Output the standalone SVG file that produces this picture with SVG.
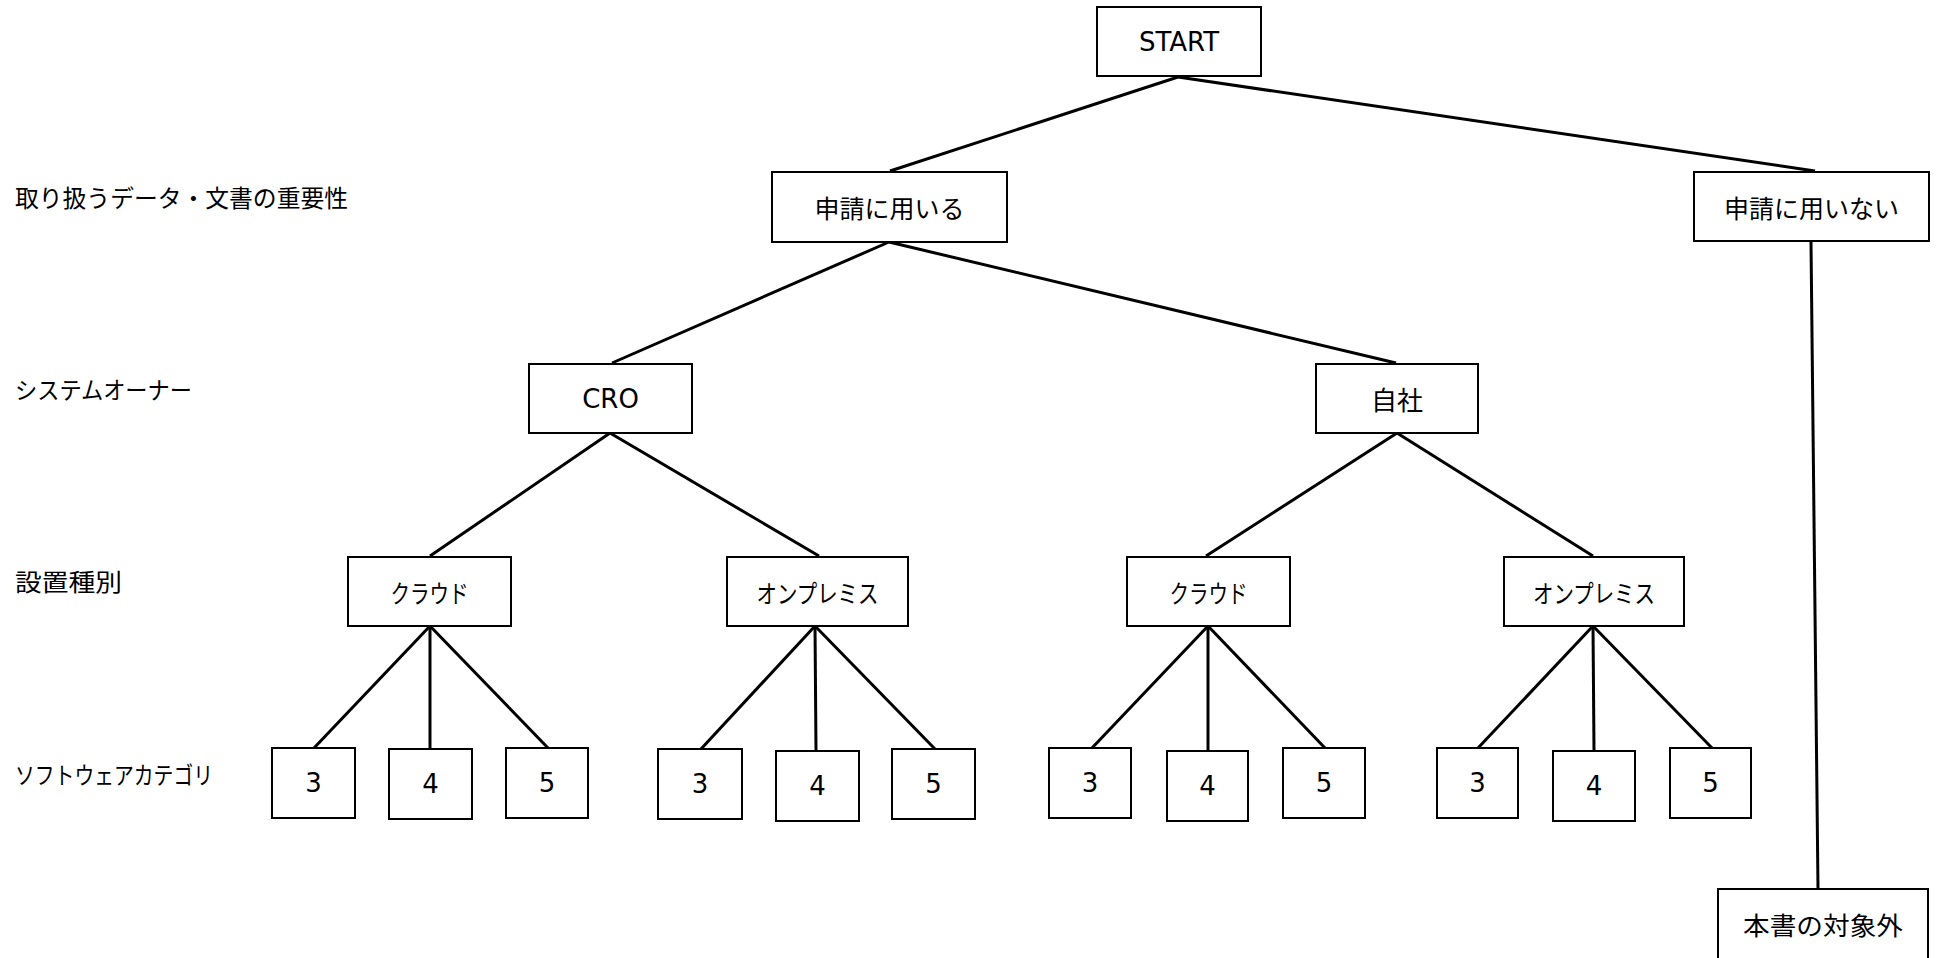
<svg xmlns="http://www.w3.org/2000/svg" width="1942" height="958" viewBox="0 0 1942 958">
<style>
.box{fill:#fff;stroke:#000;stroke-width:2}
.jp{font-family:"Noto Sans CJK JP",sans-serif;font-size:25px;fill:#000}
.lat{font-family:"DejaVu Sans",sans-serif;font-size:26px;fill:#000}
.c{text-anchor:middle;dominant-baseline:central}
.lbl{font-family:"Noto Sans CJK JP",sans-serif;font-size:24px;fill:#000;dominant-baseline:central}
#connectors line{stroke:#000;stroke-width:3;fill:none}
</style>
<rect width="1942" height="958" fill="#fff"/>
<g id="labels">
<text class="lbl" x="15" y="196" textLength="333" lengthAdjust="spacingAndGlyphs">取り扱うデータ・文書の重要性</text>
<text class="lbl" x="15" y="388" textLength="177" lengthAdjust="spacingAndGlyphs">システムオーナー</text>
<text class="lbl" x="15" y="580" textLength="107" lengthAdjust="spacingAndGlyphs">設置種別</text>
<text class="lbl" x="15" y="773" textLength="198" lengthAdjust="spacingAndGlyphs">ソフトウェアカテゴリ</text>
</g>
<g id="connectors">
<line x1="1178" y1="77" x2="890" y2="171"/>
<line x1="1178" y1="77" x2="1815" y2="171"/>
<line x1="889" y1="242" x2="612" y2="363"/>
<line x1="889" y1="242" x2="1396" y2="363"/>
<line x1="1811" y1="242" x2="1818" y2="889"/>
<line x1="610" y1="433" x2="430" y2="556"/>
<line x1="610" y1="433" x2="819" y2="556"/>
<line x1="1397" y1="433" x2="1206" y2="556"/>
<line x1="1397" y1="433" x2="1593" y2="556"/>
<line x1="430" y1="626" x2="314" y2="748"/>
<line x1="430" y1="626" x2="430" y2="749"/>
<line x1="430" y1="626" x2="548" y2="748"/>
<line x1="815" y1="626" x2="701" y2="749"/>
<line x1="815" y1="626" x2="816" y2="751"/>
<line x1="815" y1="626" x2="935" y2="749"/>
<line x1="1208" y1="626" x2="1092" y2="748"/>
<line x1="1208" y1="626" x2="1208" y2="751"/>
<line x1="1208" y1="626" x2="1325" y2="748"/>
<line x1="1593" y1="626" x2="1478" y2="748"/>
<line x1="1593" y1="626" x2="1594" y2="751"/>
<line x1="1593" y1="626" x2="1712" y2="748"/>
</g>
<g id="start"><rect class="box" x="1097" y="7" width="164" height="69"/><text class="lat c" x="1179" y="42">START</text></g>
<g id="use"><rect class="box" x="772" y="172" width="235" height="70"/><text class="jp c" x="889.5" y="207">申請に用いる</text></g>
<g id="notuse"><rect class="box" x="1694" y="172" width="235" height="69"/><text class="jp c" x="1811.5" y="206.5">申請に用いない</text></g>
<g id="cro"><rect class="box" x="529" y="364" width="163" height="69"/><text class="lat c" x="610.5" y="398.5">CRO</text></g>
<g id="own"><rect class="box" x="1316" y="364" width="162" height="69"/><text class="jp c" x="1397" y="398.5" style="font-size:26px">自社</text></g>
<g id="cloud1"><rect class="box" x="348" y="557" width="163" height="69"/><text class="jp c" x="429.5" y="591.5" textLength="78" lengthAdjust="spacingAndGlyphs">クラウド</text></g>
<g id="onprem1"><rect class="box" x="727" y="557" width="181" height="69"/><text class="jp c" x="817.5" y="591.5" textLength="122" lengthAdjust="spacingAndGlyphs">オンプレミス</text></g>
<g id="cloud2"><rect class="box" x="1127" y="557" width="163" height="69"/><text class="jp c" x="1208.5" y="591.5" textLength="78" lengthAdjust="spacingAndGlyphs">クラウド</text></g>
<g id="onprem2"><rect class="box" x="1504" y="557" width="180" height="69"/><text class="jp c" x="1594" y="591.5" textLength="122" lengthAdjust="spacingAndGlyphs">オンプレミス</text></g>
<g id="c1-3"><rect class="box" x="272" y="748" width="83" height="70"/><text class="lat c" x="313.5" y="783">3</text></g>
<g id="c1-4"><rect class="box" x="389" y="749" width="83" height="70"/><text class="lat c" x="430.5" y="784">4</text></g>
<g id="c1-5"><rect class="box" x="506" y="748" width="82" height="70"/><text class="lat c" x="547" y="783">5</text></g>
<g id="o1-3"><rect class="box" x="658" y="749" width="84" height="70"/><text class="lat c" x="700" y="784">3</text></g>
<g id="o1-4"><rect class="box" x="776" y="751" width="83" height="70"/><text class="lat c" x="817.5" y="786">4</text></g>
<g id="o1-5"><rect class="box" x="892" y="749" width="83" height="70"/><text class="lat c" x="933.5" y="784">5</text></g>
<g id="c2-3"><rect class="box" x="1049" y="748" width="82" height="70"/><text class="lat c" x="1090" y="783">3</text></g>
<g id="c2-4"><rect class="box" x="1167" y="751" width="81" height="70"/><text class="lat c" x="1207.5" y="786">4</text></g>
<g id="c2-5"><rect class="box" x="1283" y="748" width="82" height="70"/><text class="lat c" x="1324" y="783">5</text></g>
<g id="o2-3"><rect class="box" x="1437" y="748" width="81" height="70"/><text class="lat c" x="1477.5" y="783">3</text></g>
<g id="o2-4"><rect class="box" x="1553" y="751" width="82" height="70"/><text class="lat c" x="1594" y="786">4</text></g>
<g id="o2-5"><rect class="box" x="1670" y="748" width="81" height="70"/><text class="lat c" x="1710.5" y="783">5</text></g>
<g id="out"><rect class="box" x="1718" y="889" width="210" height="72"/><text class="jp c" x="1823" y="924" textLength="160" lengthAdjust="spacingAndGlyphs">本書の対象外</text></g>
</svg>
